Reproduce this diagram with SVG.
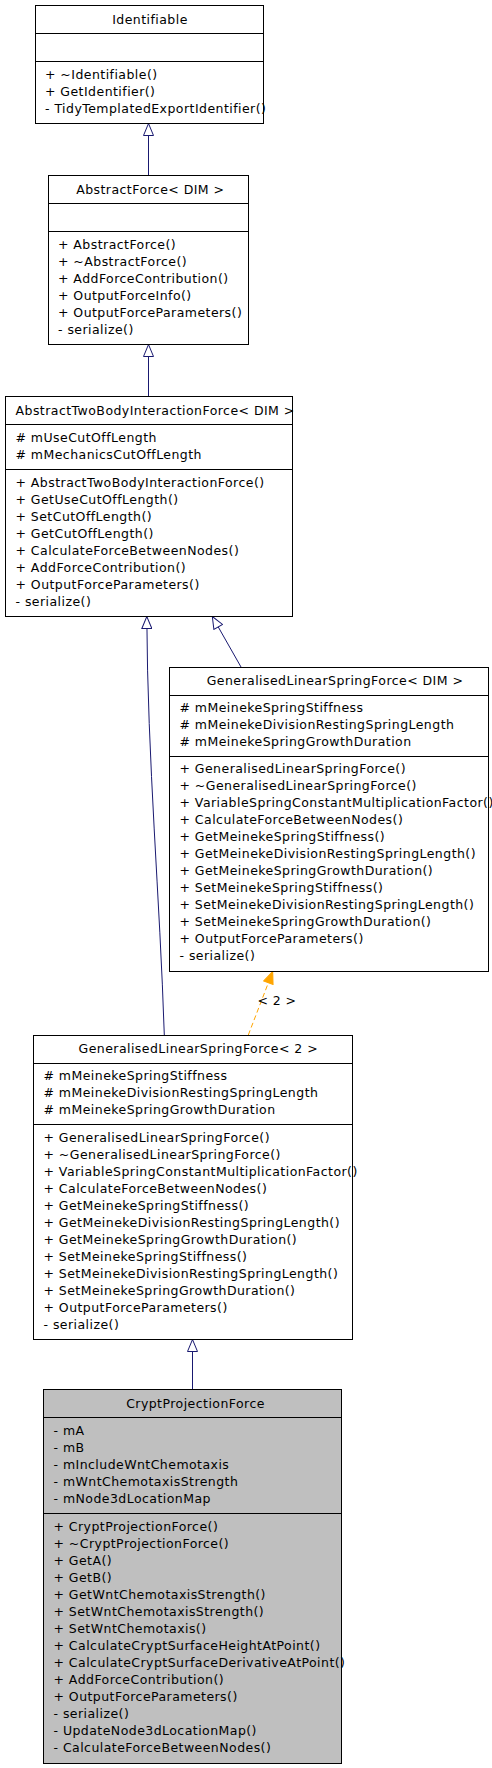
<svg xmlns="http://www.w3.org/2000/svg" width="492" height="1768" viewBox="0 0 492 1768">
<style>
text{font-family:"DejaVu Sans","Liberation Sans",sans-serif;font-size:12.5px;letter-spacing:0.45px;fill:#000}
.t{text-anchor:middle}
.box{fill:#fff;stroke:#000;stroke-width:1}
.cur{fill:#bfbfbf;stroke:#000;stroke-width:1}
.sep{stroke:#000;stroke-width:1}
.inh{fill:none;stroke:#191970;stroke-width:1;marker-end:url(#hollow)}
.tpl{fill:none;stroke:#ffa500;stroke-width:1;stroke-dasharray:5,3;marker-end:url(#solid)}
</style>
<defs>
<marker id="hollow" viewBox="0 0 14 11" refX="13" refY="5.5" markerWidth="14" markerHeight="11" markerUnits="userSpaceOnUse" orient="auto">
<path d="M1,0.5 L13,5.5 L1,10.5 Z" fill="#fff" stroke="#191970" stroke-width="1"/>
</marker>
<marker id="solid" viewBox="0 0 14 11" refX="13" refY="5.5" markerWidth="14" markerHeight="11" markerUnits="userSpaceOnUse" orient="auto">
<path d="M1,0.5 L13,5.5 L1,10.5 Z" fill="#ffa500" stroke="#ffa500" stroke-width="1"/>
</marker>
</defs>

<g id="connectors">
<path class="inh" d="M148.5,175 L148.5,123.5"/>
<path class="inh" d="M148.5,396 L148.5,344.5"/>
<path class="inh" d="M164.3,1035 C160,900 147.5,760 146.8,616.5"/>
<path class="inh" d="M241,667 L212.3,616.5"/>
<path class="tpl" d="M248.3,1035 L272.7,971.5"/>
<text class="t" x="277" y="1005">&lt; 2 &gt;</text>
<path class="inh" d="M192.5,1389 L192.5,1339.5"/>
</g>

<g id="Identifiable">
<rect class="box" x="35.5" y="5.5" width="228" height="118"/>
<line class="sep" x1="35.5" y1="33.5" x2="263.5" y2="33.5"/>
<line class="sep" x1="35.5" y1="61.5" x2="263.5" y2="61.5"/>
<text class="t" x="150" y="24">Identifiable</text>
<text x="45" y="79">+ ~Identifiable()</text>
<text x="45" y="96">+ GetIdentifier()</text>
<text x="45" y="113">- TidyTemplatedExportIdentifier()</text>
</g>

<g id="AbstractForce">
<rect class="box" x="48.5" y="175.5" width="200" height="169"/>
<line class="sep" x1="48.5" y1="203.5" x2="248.5" y2="203.5"/>
<line class="sep" x1="48.5" y1="231.5" x2="248.5" y2="231.5"/>
<text class="t" x="150.3" y="194">AbstractForce&lt; DIM &gt;</text>
<text x="58" y="249.3">+ AbstractForce()</text>
<text x="58" y="266.3">+ ~AbstractForce()</text>
<text x="58" y="283.3">+ AddForceContribution()</text>
<text x="58" y="300.3">+ OutputForceInfo()</text>
<text x="58" y="317.3">+ OutputForceParameters()</text>
<text x="58" y="334.3">- serialize()</text>
</g>

<g id="AbstractTwoBodyInteractionForce">
<rect class="box" x="5.5" y="396.5" width="287" height="220"/>
<line class="sep" x1="5.5" y1="424.5" x2="292.5" y2="424.5"/>
<line class="sep" x1="5.5" y1="469.5" x2="292.5" y2="469.5"/>
<text x="15.5" y="414.5">AbstractTwoBodyInteractionForce&lt; DIM &gt;</text>
<text x="15.5" y="442"># mUseCutOffLength</text>
<text x="15.5" y="459"># mMechanicsCutOffLength</text>
<text x="15.5" y="487">+ AbstractTwoBodyInteractionForce()</text>
<text x="15.5" y="504">+ GetUseCutOffLength()</text>
<text x="15.5" y="521">+ SetCutOffLength()</text>
<text x="15.5" y="538">+ GetCutOffLength()</text>
<text x="15.5" y="555">+ CalculateForceBetweenNodes()</text>
<text x="15.5" y="572">+ AddForceContribution()</text>
<text x="15.5" y="589">+ OutputForceParameters()</text>
<text x="15.5" y="606">- serialize()</text>
</g>

<g id="GeneralisedLinearSpringForceDIM">
<rect class="box" x="169.5" y="667.5" width="319" height="304"/>
<line class="sep" x1="169.5" y1="695.5" x2="488.5" y2="695.5"/>
<line class="sep" x1="169.5" y1="756.5" x2="488.5" y2="756.5"/>
<text class="t" x="335" y="685">GeneralisedLinearSpringForce&lt; DIM &gt;</text>
<text x="179.5" y="712"># mMeinekeSpringStiffness</text>
<text x="179.5" y="729"># mMeinekeDivisionRestingSpringLength</text>
<text x="179.5" y="746"># mMeinekeSpringGrowthDuration</text>
<text x="179.5" y="773">+ GeneralisedLinearSpringForce()</text>
<text x="179.5" y="790">+ ~GeneralisedLinearSpringForce()</text>
<text x="179.5" y="807">+ VariableSpringConstantMultiplicationFactor()</text>
<text x="179.5" y="824">+ CalculateForceBetweenNodes()</text>
<text x="179.5" y="841">+ GetMeinekeSpringStiffness()</text>
<text x="179.5" y="858">+ GetMeinekeDivisionRestingSpringLength()</text>
<text x="179.5" y="875">+ GetMeinekeSpringGrowthDuration()</text>
<text x="179.5" y="892">+ SetMeinekeSpringStiffness()</text>
<text x="179.5" y="909">+ SetMeinekeDivisionRestingSpringLength()</text>
<text x="179.5" y="926">+ SetMeinekeSpringGrowthDuration()</text>
<text x="179.5" y="943">+ OutputForceParameters()</text>
<text x="179.5" y="960">- serialize()</text>
</g>

<g id="GeneralisedLinearSpringForce2">
<rect class="box" x="33.5" y="1035.5" width="319" height="304"/>
<line class="sep" x1="33.5" y1="1063.5" x2="352.5" y2="1063.5"/>
<line class="sep" x1="33.5" y1="1124.5" x2="352.5" y2="1124.5"/>
<text class="t" x="198.3" y="1052.5">GeneralisedLinearSpringForce&lt; 2 &gt;</text>
<text x="43.5" y="1080"># mMeinekeSpringStiffness</text>
<text x="43.5" y="1097"># mMeinekeDivisionRestingSpringLength</text>
<text x="43.5" y="1114"># mMeinekeSpringGrowthDuration</text>
<text x="43.5" y="1141.5">+ GeneralisedLinearSpringForce()</text>
<text x="43.5" y="1158.5">+ ~GeneralisedLinearSpringForce()</text>
<text x="43.5" y="1175.5">+ VariableSpringConstantMultiplicationFactor()</text>
<text x="43.5" y="1192.5">+ CalculateForceBetweenNodes()</text>
<text x="43.5" y="1209.5">+ GetMeinekeSpringStiffness()</text>
<text x="43.5" y="1226.5">+ GetMeinekeDivisionRestingSpringLength()</text>
<text x="43.5" y="1243.5">+ GetMeinekeSpringGrowthDuration()</text>
<text x="43.5" y="1260.5">+ SetMeinekeSpringStiffness()</text>
<text x="43.5" y="1277.5">+ SetMeinekeDivisionRestingSpringLength()</text>
<text x="43.5" y="1294.5">+ SetMeinekeSpringGrowthDuration()</text>
<text x="43.5" y="1311.5">+ OutputForceParameters()</text>
<text x="43.5" y="1328.5">- serialize()</text>
</g>

<g id="CryptProjectionForce">
<rect class="cur" x="43.5" y="1389.5" width="298" height="374"/>
<line class="sep" x1="43.5" y1="1417.5" x2="341.5" y2="1417.5"/>
<line class="sep" x1="43.5" y1="1513.5" x2="341.5" y2="1513.5"/>
<text class="t" x="195.5" y="1407.5">CryptProjectionForce</text>
<text x="53.5" y="1435">- mA</text>
<text x="53.5" y="1452">- mB</text>
<text x="53.5" y="1469">- mIncludeWntChemotaxis</text>
<text x="53.5" y="1486">- mWntChemotaxisStrength</text>
<text x="53.5" y="1503">- mNode3dLocationMap</text>
<text x="53.5" y="1531">+ CryptProjectionForce()</text>
<text x="53.5" y="1548">+ ~CryptProjectionForce()</text>
<text x="53.5" y="1565">+ GetA()</text>
<text x="53.5" y="1582">+ GetB()</text>
<text x="53.5" y="1599">+ GetWntChemotaxisStrength()</text>
<text x="53.5" y="1616">+ SetWntChemotaxisStrength()</text>
<text x="53.5" y="1633">+ SetWntChemotaxis()</text>
<text x="53.5" y="1650">+ CalculateCryptSurfaceHeightAtPoint()</text>
<text x="53.5" y="1667">+ CalculateCryptSurfaceDerivativeAtPoint()</text>
<text x="53.5" y="1684">+ AddForceContribution()</text>
<text x="53.5" y="1701">+ OutputForceParameters()</text>
<text x="53.5" y="1718">- serialize()</text>
<text x="53.5" y="1735">- UpdateNode3dLocationMap()</text>
<text x="53.5" y="1752">- CalculateForceBetweenNodes()</text>
</g>
</svg>
